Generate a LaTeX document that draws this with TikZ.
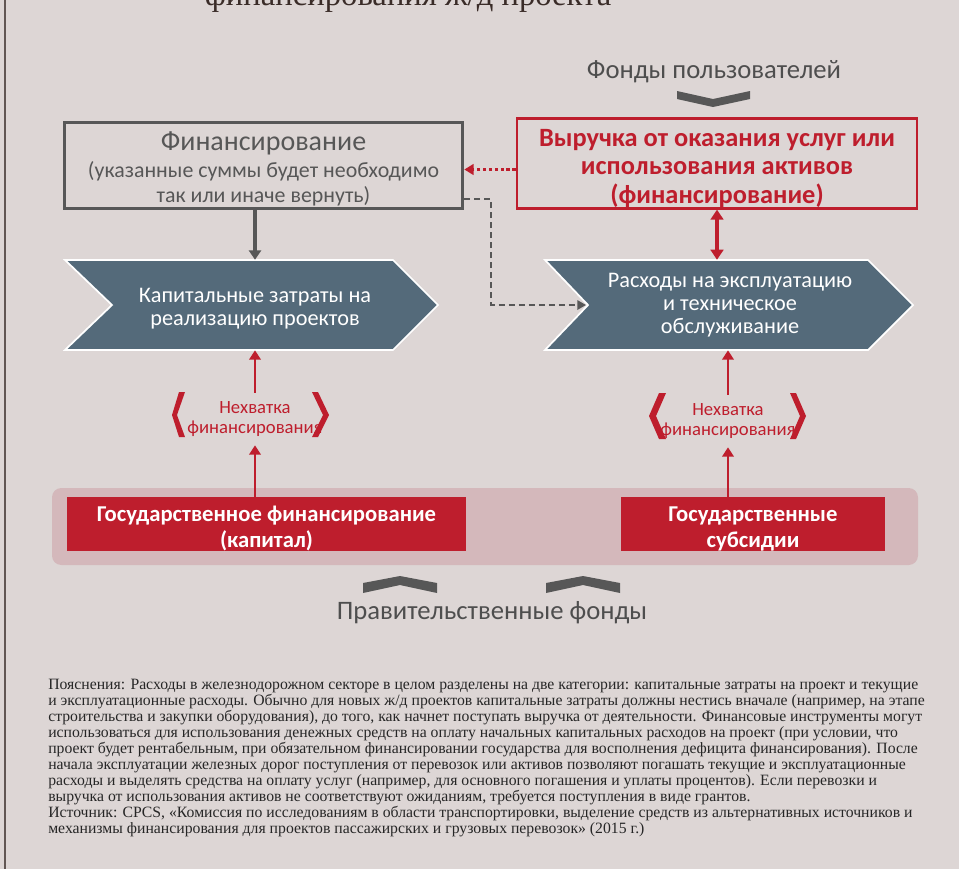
\documentclass[tikz,border=0pt]{standalone}
\usepackage{fontspec}
\setmainfont{Liberation Serif}
\newfontfamily\diagfont{Carlito}
\usetikzlibrary{arrows.meta}
\definecolor{bgpaper}{HTML}{DDD6D5}
\definecolor{darkgrey}{HTML}{575757}
\definecolor{railred}{HTML}{BE1E2D}
\definecolor{slate}{HTML}{546A7A}
\definecolor{bandpink}{HTML}{D4B8BB}
\definecolor{inkbrown}{HTML}{3A2C28}
\begin{document}
\begin{tikzpicture}[x=0.75pt,y=-0.75pt,
  greybox/.style={draw=darkgrey, line width=2.2pt, minimum width=299pt, minimum height=65pt, align=center, inner sep=0pt,
    text=darkgrey, font=\diagfont\fontsize{16.4}{18.2}\selectfont},
  redbox/.style={draw=railred, line width=2.2pt, minimum width=300pt, minimum height=67pt, align=center, inner sep=0pt,
    text=railred, font=\diagfont\bfseries\fontsize{19.8}{21.5}\selectfont},
  chev/.style={fill=slate, draw=white, line width=1.3pt, line join=miter},
  chevtext/.style={text=white, align=center, inner sep=0pt, minimum height=67.5pt, font=\diagfont\fontsize{16.7}{17.3}\selectfont},
  statebox/.style={fill=railred, text=white, align=center, inner sep=0pt, minimum height=40.5pt,
    font=\diagfont\bfseries\fontsize{17}{19.5}\selectfont},
  gap/.style={text=railred, align=center, inner sep=0pt, minimum height=39pt, font=\diagfont\fontsize{14}{15}\selectfont},
  bracket/.style={fill=railred},
  fonds/.style={text=darkgrey!90!black, font=\diagfont\fontsize{20}{24}\selectfont},
  greyarrow/.style={draw=darkgrey, line width=2.4pt, -{Triangle[length=7pt,width=9pt]}},
  redarrow/.style={draw=railred, line width=2.2pt, -{Triangle[length=7pt,width=8.5pt]}},
  dotarrow/.style={draw=railred, line width=2.4pt, dash pattern=on 2.4pt off 2pt, -{Triangle[length=7pt,width=8pt]}},
  dasharrow/.style={draw=darkgrey, line width=1.6pt, dash pattern=on 4.5pt off 3pt, -{Triangle[length=6.5pt,width=7pt]}}]
\useasboundingbox (0,0) rectangle (959,869);
\fill[bgpaper] (0,0) rectangle (959,869);
\draw[inkbrown!80, line width=1.5pt] (5,0) -- (5,869);

% title, cut by the top edge
\begin{scope}
\clip (0,0) rectangle (959,869);
\node[anchor=base, text=inkbrown, font=\fontsize{24.5}{28}\selectfont] (title) at (408,5) {финансирования ж/д проекта};
\end{scope}

% user funds
\node[fonds] (userfunds) at (714,72) {Фонды пользователей};
\fill[darkgrey] (677,91) -- (713,99) -- (750,91) -- (750,99) -- (713,107) -- (677,99) -- cycle;

\node[greybox] (fin) at (263.5,165.5) {\rule{0pt}{19pt}\fontsize{21}{22}\selectfont Финансирование\\[2pt]
  (указанные суммы будет необходимо\\так или иначе вернуть)};
\node[redbox] (rev) at (717,163.5) {\rule{0pt}{20pt}Выручка от оказания услуг или\\использования активов\\(финансирование)};

% chevrons
\draw[chev] (65,260) -- (393,260) -- (438,305) -- (393,350) -- (65,350) -- (112,305) -- cycle;
\draw[chev] (545,260) -- (868,260) -- (913,305) -- (868,350) -- (545,350) -- (588,305) -- cycle;
\node[chevtext] (capex) at (255,305) {\rule{0pt}{16pt}Капитальные затраты на\\реализацию проектов};
\node[chevtext] (opex) at (730,305) {Расходы на эксплуатацию\\и техническое\\обслуживание};
\coordinate (opexnotch) at (586,305);

\draw[greyarrow] (capex.north |- fin.south) -- (capex.north);
\draw[dotarrow] ([yshift=-4.5pt]rev.west) -- ([yshift=-4.5pt]rev.west -| fin.east);
\draw[dasharrow] ([yshift=8.25pt]fin.south east) -- ++(27,0) |- (opexnotch);
\draw[draw=railred, line width=2.6pt, {Triangle[length=7.5pt,width=9.5pt]}-{Triangle[length=7.5pt,width=9.5pt]}] (rev.south) -- (rev.south |- opex.north);

% funding gaps
\node[gap] (gapL) at (255,419) {Нехватка\\финансирования};
\node[gap] (gapR) at (728,421) {Нехватка\\финансирования};
\fill[bracket] (179,392) -- (185,392) -- (177,415) -- (185,437) -- (179,437) -- (172,415) -- cycle;
\fill[bracket] (312,392) -- (318,392) -- (329,415) -- (318,437) -- (312,437) -- (323,415) -- cycle;
\fill[bracket] (659,393) -- (666,393) -- (656,416) -- (666,439) -- (659,439) -- (649,416) -- cycle;
\fill[bracket] (790,393) -- (796,393) -- (806,416) -- (796,439) -- (790,439) -- (800,416) -- cycle;

% state funds
\fill[bandpink, rounded corners=7pt] (52,488) rectangle (918,565);
\node[statebox, minimum width=299pt] (stateL) at (266.5,524) {\rule{0pt}{18pt}Государственное финансирование\\(капитал)};
\node[statebox, minimum width=198pt] (stateR) at (753,524) {\rule{0pt}{18pt}Государственные\\субсидии};
\draw[redarrow] (gapL.north) -- (capex.south);
\draw[redarrow] (stateL.north -| gapL.south) -- (gapL.south);
\draw[redarrow] (gapR.north) -- (gapR.north |- opex.south);
\draw[redarrow] (stateR.north -| gapR.south) -- (gapR.south);

\fill[darkgrey] (363,583) -- (400,576) -- (437,583) -- (437,593) -- (400,585) -- (363,593) -- cycle;
\fill[darkgrey] (546,583) -- (583,576) -- (620,583) -- (620,593) -- (583,585) -- (546,593) -- cycle;
\node[fonds] (govfunds) at (492,613) {Правительственные фонды};

% notes
\node[anchor=north west, align=left, inner sep=0pt, text=black!85, font=\fontsize{11.8}{12}\selectfont] (notes) at (48,679) {%
Пояснения: Расходы в железнодорожном секторе в целом разделены на две категории: капитальные затраты на проект и текущие\\
и эксплуатационные расходы. Обычно для новых ж/д проектов капитальные затраты должны нестись вначале (например, на этапе\\
строительства и закупки оборудования), до того, как начнет поступать выручка от деятельности. Финансовые инструменты могут\\
использоваться для использования денежных средств на оплату начальных капитальных расходов на проект (при условии, что\\
проект будет рентабельным, при обязательном финансировании государства для восполнения дефицита финансирования). После\\
начала эксплуатации железных дорог поступления от перевозок или активов позволяют погашать текущие и эксплуатационные\\
расходы и выделять средства на оплату услуг (например, для основного погашения и уплаты процентов). Если перевозки и\\
выручка от использования активов не соответствуют ожиданиям, требуется поступления в виде грантов.\\
Источник: CPCS, «Комиссия по исследованиям в области транспортировки, выделение средств из альтернативных источников и\\
механизмы финансирования для проектов пассажирских и грузовых перевозок» (2015~г.)};
\end{tikzpicture}
\end{document}
